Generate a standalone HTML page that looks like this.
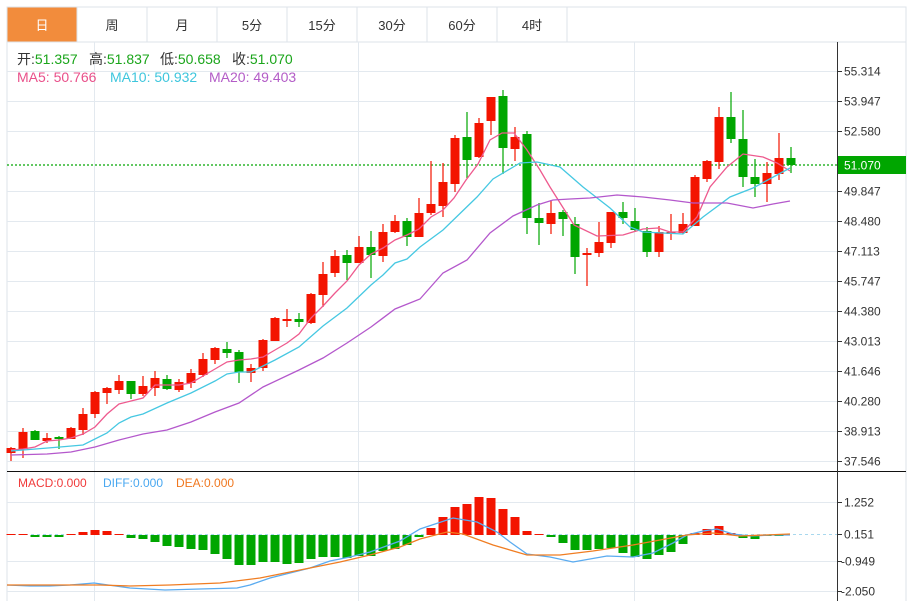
<!DOCTYPE html>
<html><head><meta charset="utf-8">
<style>
html,body{margin:0;padding:0;background:#fff;}
body{width:914px;height:601px;overflow:hidden;position:relative;font-family:"Liberation Sans","Noto Sans CJK SC",sans-serif;}
svg{position:absolute;left:0;top:0;}
</style></head><body>
<svg id="s" width="914" height="601" xmlns="http://www.w3.org/2000/svg" font-family="Liberation Sans, Noto Sans CJK SC, sans-serif">
<g id="tabs"></g>
<g id="grid" stroke="#e3e9ef" stroke-width="1"></g>
<g id="candles"></g>
<g id="lines" fill="none" stroke-width="1.3"></g>
<g id="axis"></g>
<g font-size="14">
<text x="17" y="64" fill="#333">开:<tspan fill="#1aa51a">51.357</tspan></text>
<text x="89" y="64" fill="#333">高:<tspan fill="#1aa51a">51.837</tspan></text>
<text x="160" y="64" fill="#333">低:<tspan fill="#1aa51a">50.658</tspan></text>
<text x="232" y="64" fill="#333">收:<tspan fill="#1aa51a">51.070</tspan></text>
<text x="17" y="82" fill="#e9508a">MA5: 50.766</text>
<text x="110" y="82" fill="#3ec6dd">MA10: 50.932</text>
<text x="209" y="82" fill="#b35cc7">MA20: 49.403</text>
</g>
<text x="18" y="487" font-size="12" fill="#f03a3a">MACD:0.000</text>
<text x="103" y="487" font-size="12" fill="#4aa8f0">DIFF:0.000</text>
<text x="176" y="487" font-size="12" fill="#f07820">DEA:0.000</text>
</svg>
<script>
var NS="http://www.w3.org/2000/svg";
function el(p,t,a,txt){var e=document.createElementNS(NS,t);for(var k in a)e.setAttribute(k,a[k]);if(txt!==undefined)e.textContent=txt;document.getElementById(p).appendChild(e);return e;}
var tn=["日","周","月","5分","15分","30分","60分","4时"];
el("tabs","rect",{x:7,y:7,width:899,height:35,fill:"#fff",stroke:"#dde3ea"});
for(var i=0;i<8;i++){var x=7+70*i;
 el("tabs","rect",{x:x,y:7,width:70,height:35,fill:i==0?"#f28c3c":"#fff",stroke:"#dde3ea"});
 el("tabs","text",{x:x+35,y:30,"font-size":13,fill:i==0?"#fff":"#333","text-anchor":"middle"},tn[i]);}
el("grid","line",{x1:7,y1:42,x2:7,y2:601,stroke:"#dde3ea"});
el("grid","line",{x1:906,y1:7,x2:906,y2:601,stroke:"#dde3ea"});
for(var y=71;y<=461;y+=30){ if(y==161)continue; el("grid","line",{x1:7,y1:y+0.5,x2:837,y2:y+0.5});}
[94,358,634].forEach(function(x){el("grid","line",{x1:x+0.5,y1:42,x2:x+0.5,y2:601});});
[502,561,591].forEach(function(y){el("grid","line",{x1:7,y1:y+0.5,x2:837,y2:y+0.5});});
el("grid","line",{x1:7,y1:534.5,x2:837,y2:534.5,stroke:"#a8d8ee","stroke-dasharray":"3,3"});
el("grid","line",{x1:7,y1:165,x2:837,y2:165,stroke:"#2fb52f","stroke-width":1.5,"stroke-dasharray":"2,2"});
var C=[["r",448,453,447,461],["r",432,449,428,458],["g",431,440,430,440],["r",438,441,433,443],["g",437,439,436,449],["r",428,439,427,439],["r",414,430,408,435],["r",392,414,391,418],["r",388,393,387,404],["r",381,390,375,394],["g",381,394,381,399],["r",386,394,376,396],["r",378,388,371,396],["g",379,389,375,390],["r",382,390,379,392],["r",373,383,369,388],["r",359,375,353,377],["r",348,360,347,364],["g",349,353,342,358],["g",352,372,350,383],["r",368,373,364,382],["r",340,368,339,371],["r",318,341,317,341],["r",319,321,309,327],["g",319,322,313,327],["r",294,323,293,324],["r",274,295,262,307],["r",256,273,250,277],["g",255,263,250,280],["r",247,263,236,263],["g",247,255,231,278],["r",232,256,224,262],["r",221,232,215,233],["g",221,237,218,246],["r",213,237,198,237],["r",204,213,161,215],["r",182,206,163,217],["r",138,184,135,192],["g",137,160,112,178],["r",123,157,118,158],["r",97,121,97,135],["g",96,148,90,174],["r",137,149,127,161],["g",134,218,131,234],["g",218,223,203,245],["r",213,224,200,234],["g",212,219,210,236],["g",224,257,217,274],["r",253,255,248,286],["r",242,253,222,257],["r",212,243,212,248],["g",212,218,202,224],["g",221,230,208,232],["g",231,252,227,257],["r",232,252,226,257],["r",232,234,214,240],["r",224,233,213,234],["r",177,226,175,226],["r",161,179,160,182],["r",117,162,107,169],["g",117,139,92,143],["g",139,177,110,187],["g",177,184,159,197],["r",173,184,162,202],["r",158,174,133,180],["g",158,165,147,173]];
C.forEach(function(c,i){var x=11+12*i,col=c[0]=="r"?"#f31400":"#00a600";
 el("candles","line",{x1:x,y1:c[3],x2:x,y2:c[4],stroke:col,"stroke-width":1.2});
 el("candles","rect",{x:x-4.5,y:c[1],width:9,height:Math.max(2,c[2]-c[1]),fill:col});});
var M=[-1,-1,2,2,2,-1,-3,-5,-4,-1,3,4,7,11,12,14,15,19,24,30,30,27,27,29,28,24,22,22,23,21,21,16,14,10,2,-7,-18,-28,-31,-38,-37,-26,-18,-4,-1,2,8,15,15,14,13,18,22,24,20,17,9,-2,-6,-9,-2,3,4,1,1,0];
M.forEach(function(v,i){var x=11+12*i;if(v==0)return;
 if(v<0)el("candles","rect",{x:x-4.5,y:535+v,width:9,height:-v,fill:"#f31400"});
 else el("candles","rect",{x:x-4.5,y:535,width:9,height:v,fill:"#00a600"});});
function pl(pts,col){el("lines","polyline",{points:pts.map(function(p){return p.join(",");}).join(" "),stroke:col});}
pl([[11,450],[23,449],[35,447],[47,441],[59,440],[71,438],[83,434],[95,427],[107,414],[119,404],[131,401],[143,398],[155,385],[167,385],[179,385],[191,383],[203,376],[215,369],[227,362],[239,360],[251,359],[263,357],[275,350],[287,343],[299,334],[311,318],[323,306],[335,293],[347,281],[359,265],[371,254],[383,248],[395,240],[407,235],[419,229],[431,217],[443,210],[454,198],[466,180],[478,164],[490,140],[502,133],[514,133],[527,150],[540,170],[550,187],[574,225],[597,236],[623,235],[643,229],[658,228],[670,232],[683,232],[697,217],[710,187],[727,167],[743,154],[763,157],[777,163],[790,171]],"#ee5a8e");
pl([[11,451],[60,447],[83,445],[107,433],[119,423],[131,417],[143,414],[167,403],[191,393],[215,381],[227,374],[239,372],[251,372],[275,360],[299,347],[323,326],[347,308],[371,285],[383,275],[395,263],[407,259],[420,247],[443,230],[477,197],[493,179],[520,163],[537,162],[560,167],[583,187],[610,208],[630,227],[643,232],[663,233],[683,234],[703,217],[730,197],[753,188],[777,175],[790,168]],"#46c8e2");
pl([[11,455],[47,454],[71,452],[95,447],[119,440],[143,434],[167,430],[191,422],[215,412],[239,403],[263,387],[299,370],[323,358],[347,343],[371,327],[395,309],[420,299],[443,273],[467,260],[490,233],[513,216],[537,205],[553,200],[570,199],[590,198],[617,195],[643,197],[670,200],[693,203],[727,203],[753,208],[773,204],[790,201]],"#b458cc");
pl([[7,585],[30,586],[50,586],[70,585],[94,583],[130,588],[165,590],[200,589],[237,588],[250,585],[270,578],[290,573],[310,568],[330,561],[350,557],[370,552],[400,541],[420,529],[453,518],[477,522],[497,532],[510,542],[527,554],[550,557],[573,562],[607,556],[633,557],[653,553],[673,543],[687,535],[703,531],[717,529],[733,534],[750,536],[773,535],[790,535]],"#5aabf0");
pl([[7,585],[100,585],[130,586],[170,585],[220,583],[260,578],[300,570],[340,562],[370,555],[400,547],[420,539],[447,532],[463,534],[493,545],[527,555],[560,555],[593,551],[633,545],[660,540],[687,535],[713,533],[740,536],[790,534]],"#f07d22");
el("axis","line",{x1:7,y1:471.5,x2:906,y2:471.5,stroke:"#111"});
el("axis","line",{x1:837.5,y1:42,x2:837.5,y2:601,stroke:"#333"});
var P=["55.314","53.947","52.580","51.213","49.847","48.480","47.113","45.747","44.380","43.013","41.646","40.280","38.913","37.546"];
P.forEach(function(t,i){var y=71+30*i;if(i==3)return;
 el("axis","line",{x1:838,y1:y+0.5,x2:842,y2:y+0.5,stroke:"#333"});
 el("axis","text",{x:844,y:y+4.5,"font-size":12,fill:"#333"},t);});
el("axis","rect",{x:838,y:156,width:68,height:18,fill:"#00a600"});
el("axis","text",{x:844,y:169.5,"font-size":12,fill:"#fff"},"51.070");
[["1.252",502],["0.151",534],["-0.949",561],["-2.050",591]].forEach(function(a){
 el("axis","line",{x1:838,y1:a[1]+0.5,x2:842,y2:a[1]+0.5,stroke:"#333"});
 el("axis","text",{x:(a[0][0]=="-"?841:844),y:a[1]+4.5,"font-size":12,fill:"#333"},a[0]);});
</script>
</body></html>
